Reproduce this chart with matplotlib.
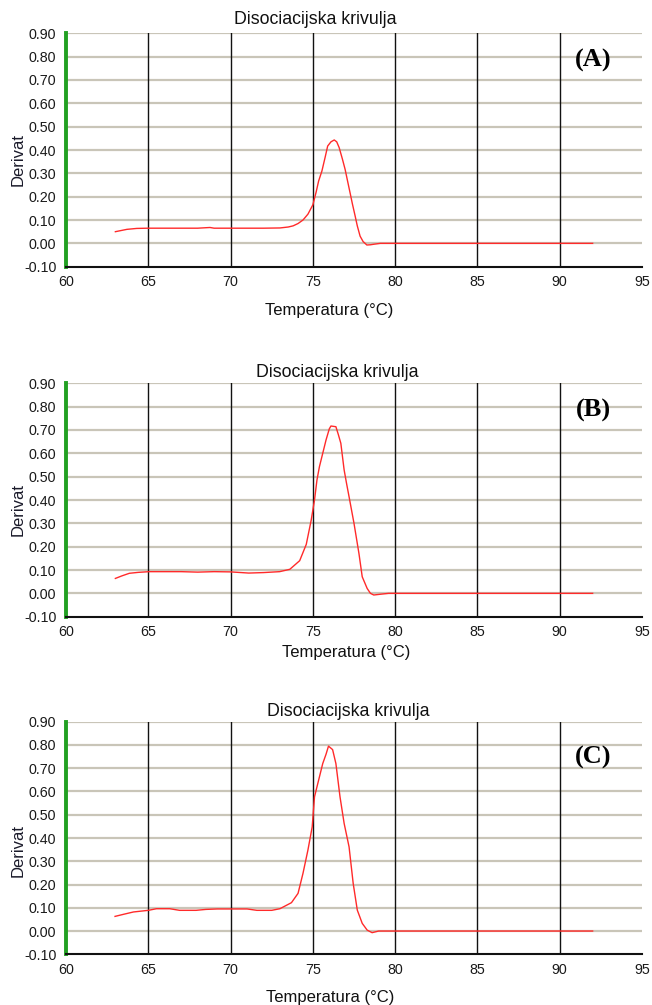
import matplotlib
matplotlib.use("Agg")
import matplotlib.pyplot as plt

# ---- data ----
temp_a = [63.0, 63.7, 64.3, 65.0, 66.0, 67.0, 68.0, 68.75, 69.0, 70.0, 71.0, 72.0, 73.0, 73.5, 73.8,
          74.1, 74.4, 74.7, 75.0, 75.2, 75.35, 75.55, 75.75, 75.9, 76.1, 76.3, 76.45, 76.6, 76.8,
          76.96, 77.1, 77.26, 77.4, 77.57, 77.7, 77.87, 78.05, 78.28, 78.5, 78.68, 79.1, 80.0, 85.0, 92.0]
deriv_a = [0.050, 0.060, 0.064, 0.065, 0.065, 0.065, 0.065, 0.068, 0.065, 0.065, 0.065, 0.065, 0.066,
           0.070, 0.075, 0.085, 0.100, 0.125, 0.165, 0.220, 0.267, 0.310, 0.370, 0.417, 0.435, 0.443,
           0.435, 0.410, 0.360, 0.317, 0.270, 0.217, 0.170, 0.117, 0.075, 0.031, 0.008, -0.007, -0.006,
           -0.004, 0.0, 0.0, 0.0, 0.0]

temp_b = [63.0, 63.4, 63.85, 64.4, 65.06, 66.0, 67.0, 68.0, 69.0, 70.0, 71.1, 72.0, 72.98, 73.6, 74.2,
          74.6, 74.9, 75.1, 75.25, 75.4, 75.6, 75.8, 76.0, 76.1, 76.4, 76.55, 76.7, 76.9, 77.05, 77.2,
          77.5, 77.8, 78.0, 78.3, 78.5, 78.7, 79.2, 79.6, 85.0, 92.0]
deriv_b = [0.064, 0.075, 0.086, 0.090, 0.093, 0.093, 0.093, 0.091, 0.093, 0.092, 0.087, 0.089, 0.093,
           0.103, 0.140, 0.210, 0.314, 0.400, 0.486, 0.543, 0.600, 0.657, 0.705, 0.717, 0.714, 0.680,
           0.643, 0.529, 0.470, 0.414, 0.300, 0.171, 0.071, 0.021, 0.000, -0.007, -0.003, 0.0, 0.0, 0.0]

temp_c = [62.98, 63.5, 64.1, 65.0, 65.5, 66.3, 66.9, 67.9, 68.5, 69.2, 70.0, 71.0, 71.6, 72.5, 73.0,
          73.7, 74.1, 74.4, 74.7, 74.96, 75.1, 75.25, 75.6, 75.8, 75.95, 76.2, 76.4, 76.65, 76.9, 77.2,
          77.45, 77.7, 78.0, 78.3, 78.6, 79.0, 85.0, 92.0]
deriv_c = [0.063, 0.072, 0.082, 0.089, 0.096, 0.096, 0.089, 0.089, 0.093, 0.095, 0.095, 0.095, 0.089,
           0.089, 0.096, 0.122, 0.162, 0.248, 0.348, 0.448, 0.577, 0.620, 0.720, 0.760, 0.795, 0.780,
           0.720, 0.577, 0.463, 0.362, 0.205, 0.090, 0.033, 0.004, -0.007, 0.0, 0.0, 0.0]

x_ticks = [60, 65, 70, 75, 80, 85, 90, 95]
y_ticks = [-0.10, 0.00, 0.10, 0.20, 0.30, 0.40, 0.50, 0.60, 0.70, 0.80, 0.90]
panel_labels = ["(A)", "(B)", "(C)"]
title_text = "Disociacijska krivulja"
xlabel_text = "Temperatura (°C)"
ylabel_text = "Derivat"

# ---- layout ----
W, H = 652, 1005
fig = plt.figure(figsize=(W / 100, H / 100), dpi=100)
plt.rcParams['font.family'] = ['Liberation Sans', 'DejaVu Sans']

left_px, right_px = 66, 642
panels = [
    dict(top=33.3, bot=266.7, title=(315, 20), xlab=(329, 311), ylab=(18, 160), lab=(593, 60),
         t=temp_a, d=deriv_a),
    dict(top=383.3, bot=616.7, title=(337, 372), xlab=(346, 653), ylab=(18, 510), lab=(593, 410),
         t=temp_b, d=deriv_b),
    dict(top=721.7, bot=954.3, title=(348, 712), xlab=(330, 997), ylab=(18, 850), lab=(593, 757),
         t=temp_c, d=deriv_c),
]

for p, lab in zip(panels, panel_labels):
    ax = fig.add_axes([left_px / W, 1 - p['bot'] / H, (right_px - left_px) / W, (p['bot'] - p['top']) / H])
    ax.set_xlim(60, 95)
    ax.set_ylim(-0.10, 0.90)
    ax.set_xticks(x_ticks)
    ax.set_yticks(y_ticks)
    ax.set_xticklabels([str(v) for v in x_ticks])
    ax.set_yticklabels([f"{v:.2f}" for v in y_ticks])
    ax.tick_params(axis='both', length=0, labelsize=10.3, colors='#1a1a1a')
    ax.tick_params(axis='y', pad=7)
    ax.tick_params(axis='x', pad=6)
    for v in y_ticks[1:]:
        ax.axhline(v, color='#c9c5b8', lw=1.6, zorder=1)
    for v in x_ticks[1:-1]:
        ax.axvline(v, color='#111111', lw=1.0, zorder=1)
    ax.plot(p['t'], p['d'], color='#ff2a2a', lw=1.0, zorder=3)
    for s in ['top', 'right']:
        ax.spines[s].set_visible(False)
    ax.spines['left'].set_color('#22a022')
    ax.spines['left'].set_linewidth(2.8)
    ax.spines['bottom'].set_color('#111111')
    ax.spines['bottom'].set_linewidth(1.5)

    fig.text(p['title'][0] / W, 1 - p['title'][1] / H, title_text, ha='center', va='center',
             fontsize=12.8, color='#111111')
    fig.text(p['xlab'][0] / W, 1 - p['xlab'][1] / H, xlabel_text, ha='center', va='center',
             fontsize=12, color='#111111')
    fig.text(p['ylab'][0] / W, 1 - p['ylab'][1] / H, ylabel_text, ha='center', va='center',
             fontsize=12, color='#1a1a2a', rotation=90)
    fig.text(p['lab'][0] / W, 1 - p['lab'][1] / H, lab, ha='center', va='center',
             fontsize=19, fontweight='bold', family=['Liberation Serif', 'DejaVu Serif'], color='black')

fig.savefig("out.png", dpi=100, facecolor='white')
